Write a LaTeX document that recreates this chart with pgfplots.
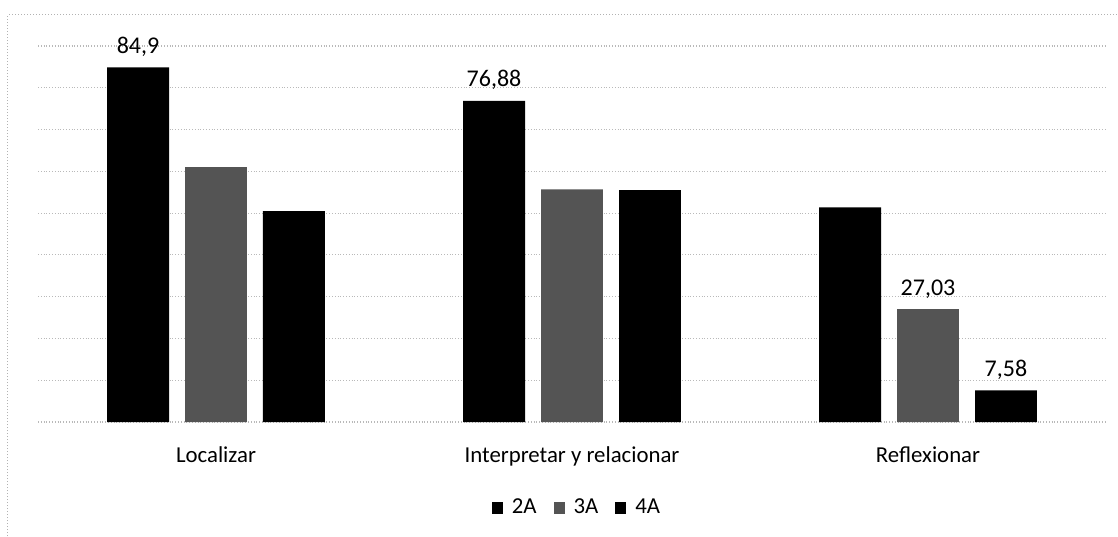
\documentclass[border=0pt]{standalone}
\usepackage{pgfplots}
\pgfplotsset{compat=1.18}
\usepackage{fontspec}
\setmainfont{Carlito}
\definecolor{bargrey}{gray}{0.33}
\begin{document}
\begin{tikzpicture}
\useasboundingbox (-19pt,-57pt) rectangle (540pt,211pt);
\draw[gray!60, densely dotted, line width=0.5pt] (-15pt,-57pt) -- (-15pt,203.5pt) -- (540pt,203.5pt);
\begin{axis}[
  at={(0,0)}, anchor=south west,
  scale only axis, width=534pt, height=188pt,
  xmin=-0.5, xmax=2.5, ymin=0, ymax=90,
  axis line style={draw=none},
  ytick={0,10,...,90}, yticklabels={},
  ymajorgrids, grid style={gray!55, densely dotted, line width=0.6pt},
  xtick={0,1,2},
  xticklabels={Localizar, Interpretar y relacionar, Reflexionar},
  xticklabel style={anchor=base, yshift=-20pt, font=\fontsize{11.4}{13}\selectfont},
  major tick length=0pt,
  clip=false,
  point meta=explicit symbolic,
  nodes near coords={\pgfplotspointmeta},
  every node near coord/.append style={anchor=base, inner sep=0pt, yshift=7pt, font=\fontsize{12}{13}\selectfont, text=black},
  legend style={at={(0.5,0)}, anchor=center, yshift=-43pt, xshift=3pt, draw=none, fill=none,
    font=\fontsize{11.4}{13}\selectfont, legend columns=-1,
    /tikz/every odd column/.append style={column sep=2.5pt},
    /tikz/every even column/.append style={column sep=6.5pt}},
  legend image code/.code={\fill[#1] (0pt,-3pt) rectangle (5.5pt,3pt);},
]
% 2A (plotted at category position - 0.219)
\addplot[ybar, bar width=0.174, bar shift=0, fill=black, draw=none]
  coordinates {(-0.219,84.9) [{84,9}] (0.781,76.88) [{76,88}] (1.781,51.4) [{}]};
% 3A (at category position)
\addplot[ybar, bar width=0.174, bar shift=0, fill=bargrey, draw=none]
  coordinates {(0,61.0) [{}] (1,55.7) [{}] (2,27.03) [{27,03}]};
% 4A (at category position + 0.219)
\addplot[ybar, bar width=0.174, bar shift=0, fill=black, draw=none]
  coordinates {(0.219,50.5) [{}] (1.219,55.5) [{}] (2.219,7.58) [{7,58}]};
\legend{2A, 3A, 4A}
\end{axis}
\end{tikzpicture}
\end{document}
